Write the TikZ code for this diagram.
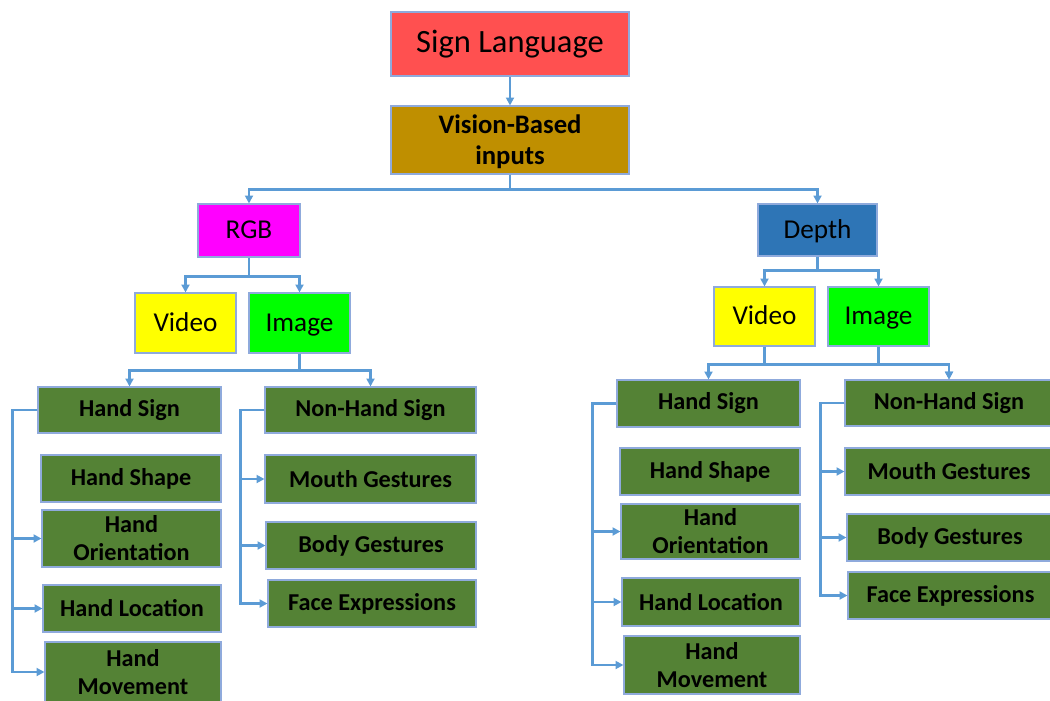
\documentclass[tikz,border=0pt]{standalone}
\usepackage{fontspec}
\setmainfont{Carlito}
\usepackage{xcolor}
\usetikzlibrary{arrows.meta}
\definecolor{linkblue}{HTML}{5B9BD5}
\definecolor{edgeblue}{HTML}{8FAADC}
\definecolor{langred}{HTML}{FF5050}
\definecolor{visiongold}{HTML}{BF8F00}
\definecolor{rgbpink}{HTML}{FF00FF}
\definecolor{depthblue}{HTML}{2E75B6}
\definecolor{videoyellow}{HTML}{FFFF00}
\definecolor{imagegreen}{HTML}{00FF00}
\definecolor{leafgreen}{HTML}{548235}

\begin{document}
\begin{tikzpicture}[
    x=0.02cm, y=-0.02cm,
    every node/.style={rectangle, draw=edgeblue, line width=0.6pt,
                       inner sep=0pt, align=center},
    sz/.style 2 args={minimum width=#1*0.02cm, minimum height=#2*0.02cm},
    mid/.style={font=\fontsize{15.5}{18}\selectfont, text height=2.4ex, text depth=0.4ex},
    leaf/.style={fill=leafgreen, font=\fontsize{13.8}{16}\selectfont\bfseries},
    link/.style={draw=linkblue, line width=1.6pt,
                 -{Triangle[length=4.5pt,width=4.5pt]}}
]
\useasboundingbox (0,0) rectangle (1050,700);

% top levels
\node (lang) [sz={238}{64}, fill=langred, font=\fontsize{18.5}{22}\selectfont] at (510,44) {Sign Language};
\node (vision) [sz={238}{68}, fill=visiongold, font=\fontsize{15.2}{17.5}\selectfont\bfseries] at (510,140) {\strut Vision-Based\\inputs};
\node (rgb) [sz={102}{53}, fill=rgbpink, mid] at (249,230.5) {RGB};
\node (depth) [sz={119}{52}, fill=depthblue, mid] at (817.5,230) {Depth};

\node (lvideo) [sz={101}{60}, fill=videoyellow, mid] at (185.5,323) {Video};
\node (limage) [sz={101}{60}, fill=imagegreen, mid] at (299.5,323) {Image};
\node (rvideo) [sz={101}{59}, fill=videoyellow, mid] at (764.5,316.5) {Video};
\node (rimage) [sz={101}{59}, fill=imagegreen, mid] at (878.5,316.5) {Image};

% RGB branch
\node (lhand) [leaf, sz={183}{46}] at (129.5,410) {Hand Sign};
\node (lshape) [leaf, sz={180}{47}] at (131,478.5) {Hand Shape};
\node (lorient) [leaf, sz={179}{57}] at (131.5,538.5) {Hand\\Orientation};
\node (lloc) [leaf, sz={178}{47}] at (132,608.5) {Hand Location};
\node (lmove) [leaf, sz={176}{60}] at (133,672) {Hand\\Movement};
\node (lnon) [leaf, sz={211}{46}] at (370.5,410) {Non-Hand Sign};
\node (lmouth) [leaf, sz={211}{48}] at (370.5,479) {Mouth Gestures};
\node (lbody) [leaf, sz={210}{47}] at (371,545.5) {Body Gestures};
\node (lface) [leaf, sz={208}{47}] at (372,603.5) {Face Expressions};

% Depth branch
\node (rhand) [leaf, sz={183}{47}] at (708.5,403.5) {Hand Sign};
\node (rshape) [leaf, sz={180}{47}] at (710,471.5) {Hand Shape};
\node (rorient) [leaf, sz={179}{55}] at (710.5,531.5) {Hand\\Orientation};
\node (rloc) [leaf, sz={178}{48}] at (711,602) {Hand Location};
\node (rmove) [leaf, sz={176}{58}] at (712,665) {Hand\\Movement};
\node (rnon) [leaf, sz={208}{46}] at (949,403) {Non-Hand Sign};
\node (rmouth) [leaf, sz={208}{47}] at (949,471.5) {Mouth Gestures};
\node (rbody) [leaf, sz={206}{47}] at (950,537.5) {Body Gestures};
\node (rface) [leaf, sz={205}{47}] at (950.5,595.5) {Face Expressions};

% connectors
\draw[link] (lang) -- (vision);
\draw[link] (vision.south) -- ++(0,15) -| (rgb.north);
\draw[link] (vision.south) -- ++(0,15) -| (depth.north);
\draw[link] (rgb.south) -- ++(0,19) -| (lvideo.north);
\draw[link] (rgb.south) -- ++(0,19) -| (limage.north);
\draw[link] (depth.south) -- ++(0,14) -| (rvideo.north);
\draw[link] (depth.south) -- ++(0,14) -| (rimage.north);
\draw[link] (limage.south) -- ++(0,17) -| (lhand.north);
\draw[link] (limage.south) -- ++(0,17) -| (lnon.north);
\draw[link] (rvideo.south) -- ++(0,18) -| (rhand.north);
\draw[link] (rvideo.south) -- ++(0,18) -| (rnon.north);
\draw[link] (rimage.south) -- ++(0,18) -| (rnon.north);

\draw[link] (lhand.west) -- ++(-25,0) |- (lorient.west);
\draw[link] (lhand.west) -- ++(-25,0) |- (lloc.west);
\draw[link] (lhand.west) -- ++(-25,0) |- (lmove.west);
\draw[link] (lnon.west) -- ++(-24,0) |- (lmouth.west);
\draw[link] (lnon.west) -- ++(-24,0) |- (lbody.west);
\draw[link] (lnon.west) -- ++(-24,0) |- (lface.west);

\draw[link] (rhand.west) -- ++(-24,0) |- (rorient.west);
\draw[link] (rhand.west) -- ++(-24,0) |- (rloc.west);
\draw[link] (rhand.west) -- ++(-24,0) |- (rmove.west);
\draw[link] (rnon.west) -- ++(-24,0) |- (rmouth.west);
\draw[link] (rnon.west) -- ++(-24,0) |- (rbody.west);
\draw[link] (rnon.west) -- ++(-24,0) |- (rface.west);
\end{tikzpicture}
\end{document}
